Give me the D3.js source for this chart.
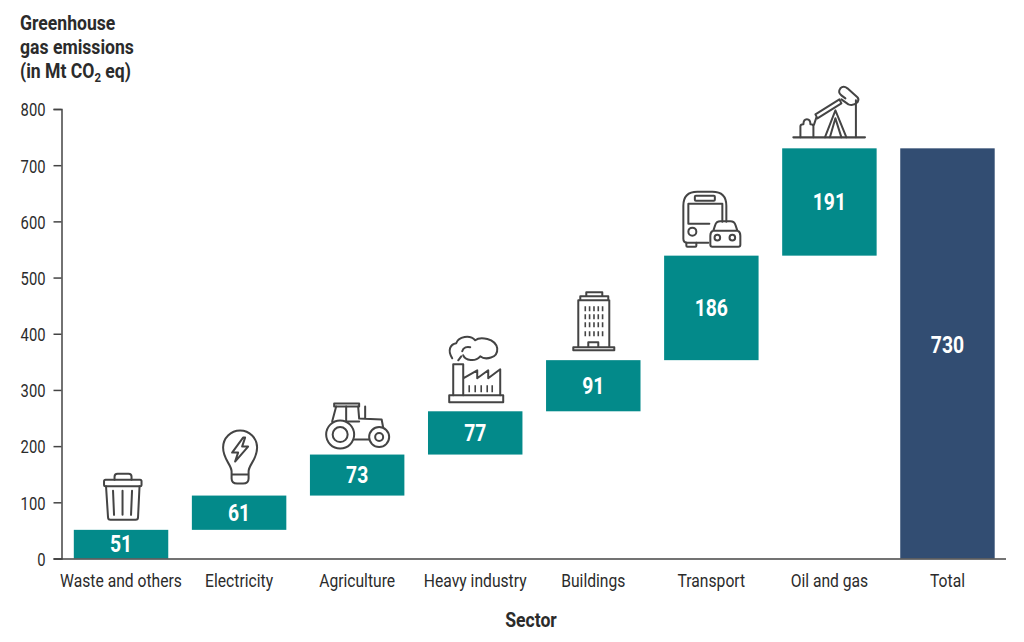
<!DOCTYPE html>
<html>
  <head>
    <title>Greenhouse gas emissions by sector</title>
    <meta charset="utf-8">
    <style>
      body { margin: 0; background-color: #fff; }
      svg { display: block; }
      text { font-family: Roboto, sans-serif; fill: #2b2b2b; }
      .icon { fill: none; stroke: #444; stroke-width: 2; stroke-linejoin: round; stroke-linecap: round; }
      .icon .dots { stroke-width: 1.6; stroke-linecap: butt; }
    </style>
    <script src="https://cdnjs.cloudflare.com/ajax/libs/d3/7.8.5/d3.min.js"></script>
  </head>
  <body>
    <svg id="chart" width="1024" height="642"></svg>
    <script>
      var sectors = ['Waste and others', 'Electricity', 'Agriculture', 'Heavy industry', 'Buildings', 'Transport', 'Oil and gas', 'Total'];
      var emissions = [51, 61, 73, 77, 91, 186, 191, 730];
      var yTicks = [0, 100, 200, 300, 400, 500, 600, 700, 800];
      var titleLines = ['Greenhouse', 'gas emissions'];

      // icons are drawn around (0,0) = middle of the bar top
      var icons = {
        'Waste and others': '<rect x="-17" y="-50" width="37.5" height="6.5" rx="1.5"/><path d="M-6.5,-50v-3q0,-3 3,-3h11q3,0 3,3v3"/><path d="M-15,-43.5L-13,-12.5q0,2.5 2.5,2.5h25q2.5,0 2.5,-2.5L18.5,-43.5"/><path d="M-8,-39L-7,-15M1.5,-39V-15M11,-39L10,-15"/>',
        'Electricity': '<path d="M-7.5,-24C-7.5,-31 -16,-36 -16,-48A17,17 0 1 1 18,-48C18,-36 9.5,-31 9.5,-24V-17Q9.5,-12 4,-12H-2Q-7.5,-12 -7.5,-17ZM-7.5,-21H9.5"/><path d="M4,-58L-7,-43H-1L-4,-34L9,-49H3L6,-58Z"/>',
        'Agriculture': '<circle cx="-17" cy="-20" r="14"/><circle cx="-17" cy="-20" r="7.5"/><circle cx="22" cy="-17.5" r="10"/><circle cx="22" cy="-17.5" r="4"/><rect x="-23" y="-51" width="25" height="3"/><path d="M-21,-48L-25,-33M-11,-48V-33H2M1,-48L2,-36L24.5,-35L26,-27M8,-48V-36M-3,-15H12"/>',
        'Heavy industry': '<rect x="-26" y="-16" width="54" height="7"/><path d="M-22,-16V-47H-12V-16M-12,-33L2,-41V-33L13,-41V-33L25,-42V-16"/><path class="dots" d="M-6,-26v7M0,-26v7M6,-26v7M12,-26v7M17,-26v7"/><path d="M-23,-53C-28,-61 -25,-67 -19,-68C-17,-75 -5,-77 0,-71C5,-75 20,-73 22,-63C23,-53 10,-51 5,-55C0,-49 -10,-51 -12,-56M-13,-60C-12,-64 -8,-65 -5,-64M-17,-51L-14,-55"/>',
        'Buildings': '<path d="M-20,-13V-10H21V-13ZM-15,-13V-60H16V-13M-13,-60V-64H15V-60M-7,-64V-68H9V-64M-5,-13V-18H5V-13"/><path class="dots" d="M-8,-54v5M-3.7,-54v5M.7,-54v5M5,-54v5M9.3,-54v5M-8,-46v5M-3.7,-46v5M.7,-46v5M5,-46v5M9.3,-46v5M-8,-38v5M-3.7,-38v5M.7,-38v5M5,-38v5M9.3,-38v5M-8,-29v5M-3.7,-29v5M.7,-29v5M5,-29v5M9.3,-29v5"/>',
        'Transport': '<path d="M-3,-13H-24q-4,0 -4,-4V-50q0,-14 14,-14H1q14,0 14,14V-34"/><path d="M-25,-13v3q0,1 1,1h8q1,0 1,-1v-3"/><path d="M-2,-32H-23V-52H11V-34"/><rect x="-16.5" y="-60" width="20" height="5" rx="1"/><circle cx="-19" cy="-24" r="4"/><path d="M-1,-11V-20Q-1,-24 2,-25L4,-31Q5,-34.500 9,-34.500H19Q23,-34.500 24,-31L26,-25Q29,-24 29,-20V-11Q29,-9 27,-9H1Q-1,-9 -1,-11ZM2,-25H26"/><circle cx="6" cy="-18" r="2.800"/><circle cx="21" cy="-18" r="2.800"/>',
        'Oil and gas': '<path d="M-36,-11H35.500" style="stroke-width:2.200"/><path d="M-29,-11V-22Q-29,-24 -26,-24Q-26,-29 -22.500,-29Q-19,-29 -19,-24Q-16,-24 -16,-22V-11"/><path d="M-14,-34L10,-49L12,-45L-12,-30ZM-13,-31L-15.500,-23.500"/><path d="M-4.500,-11L6,-38L17,-11M.5,-11L6,-30L12,-11"/><path d="M26.500,-48V-11M12,-49L19,-44Q24,-42 28,-46Q30,-49 28,-51L18,-60Q14,-63 11,-60Q8,-56 12,-53L16,-50"/>'
      };

      var svg = d3.select('#chart');
      var x = d3.scaleBand().domain(sectors).range([62, 1006.5]).paddingInner(0.2).paddingOuter(0.1);
      var y = d3.scaleLinear().domain([0, 800]).range([558.5, 109]);

      // waterfall: each bar starts where the previous one stopped, total from 0
      var running = 0;
      var bars = sectors.map(function(s, i) {
        var isTotal = s === 'Total';
        var start = isTotal ? 0 : running;
        if (!isTotal) running += emissions[i];
        return { sector: s, value: emissions[i], start: start, end: start + emissions[i], isTotal: isTotal };
      });

      // no condensed font here, so squeeze the glyphs
      function squeeze(sel, k) {
        sel.each(function() {
          var len = this.getComputedTextLength();
          d3.select(this).attr('textLength', len * k).attr('lengthAdjust', 'spacingAndGlyphs');
        });
      }

      svg.selectAll('rect.bar').data(bars).enter().append('rect')
        .attr('class', 'bar')
        .attr('x', function(d) { return x(d.sector); })
        .attr('y', function(d) { return y(d.end); })
        .attr('width', x.bandwidth())
        .attr('height', function(d) { return y(d.start) - y(d.end); })
        .attr('fill', function(d) { return d.isTotal ? '#324d72' : '#038a8a'; });

      svg.selectAll('text.value').data(bars).enter().append('text')
        .attr('class', 'value')
        .attr('x', function(d) { return x(d.sector) + x.bandwidth() / 2; })
        // the total's label sits a little above the bar's middle
        .attr('y', function(d) { return (d.isTotal ? y(d.end * 0.52) : y((d.start + d.end) / 2)) + 8; })
        .attr('text-anchor', 'middle')
        .style('font-size', '23px').style('font-weight', 700).style('fill', '#fff')
        .text(function(d) { return d.value; })
        .call(squeeze, 0.84);

      svg.selectAll('g.icon').data(bars.filter(function(d) { return !d.isTotal; })).enter().append('g')
        .attr('class', 'icon')
        .attr('transform', function(d) { return 'translate(' + (x(d.sector) + x.bandwidth() / 2) + ',' + y(d.end) + ')'; })
        .html(function(d) { return icons[d.sector]; });

      var yAxis = svg.append('g').attr('transform', 'translate(61.5,0)')
        .call(d3.axisLeft(y).tickValues(yTicks).tickSize(8).tickPadding(8));
      var xAxis = svg.append('g').attr('transform', 'translate(0,558.5)')
        .call(d3.axisBottom(x).tickSize(0).tickPadding(16));

      [yAxis, xAxis].forEach(function(a) {
        a.selectAll('path.domain').attr('stroke', '#444').attr('stroke-width', 1.5);
        a.selectAll('.tick line').attr('stroke', '#444').attr('stroke-width', 1.5);
        a.selectAll('text').style('font-size', '18px').style('font-family', 'Roboto, sans-serif').attr('fill', '#2b2b2b');
      });
      yAxis.selectAll('text').attr('dy', '0.38em').call(squeeze, 0.82);
      xAxis.selectAll('text').call(squeeze, 0.87);
      // x axis line runs out to the left to meet the 0 tick
      xAxis.select('path.domain').attr('d', 'M54,0.5H1006');

      svg.append('text').attr('x', 531).attr('y', 627).attr('text-anchor', 'middle')
        .style('font-size', '20px').style('font-weight', 700)
        .text('Sector').call(squeeze, 0.88);

      var title = svg.append('g');
      titleLines.forEach(function(t, i) {
        title.append('text').attr('x', 20).attr('y', 30 + i * 24)
          .style('font-size', '20px').style('font-weight', 700)
          .text(t).call(squeeze, 0.88);
      });
      // scaled with a transform so the subscript keeps its own box
      var lastLine = title.append('text').attr('transform', 'translate(20,78) scale(0.88,1)')
        .style('font-size', '20px').style('font-weight', 700);
      lastLine.append('tspan').text('(in Mt CO');
      lastLine.append('tspan').attr('dy', 4).style('font-size', '13px').text('2');
      lastLine.append('tspan').attr('dy', -4).text(' eq)');
    </script>
  </body>
</html>
